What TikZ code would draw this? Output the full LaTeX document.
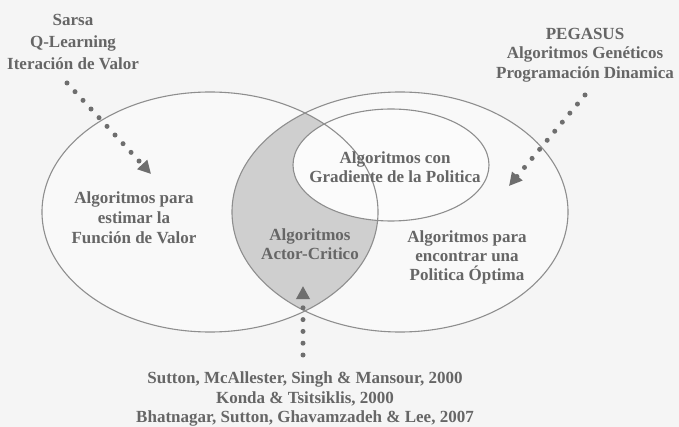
\documentclass[tikz,border=0pt]{standalone}
\usepackage{fontspec}
\setmainfont{Liberation Serif}
\usetikzlibrary{arrows.meta}
\definecolor{bgpaper}{HTML}{F5F5F5}
\definecolor{ringline}{HTML}{8E8E8E}
\definecolor{lensfill}{HTML}{CFCFCF}
\definecolor{labelgray}{HTML}{666666}
\definecolor{pointergray}{HTML}{6E6E6E}
\tikzset{
  ring/.style={draw=ringline, line width=1.1pt},
  lbl/.style={text=labelgray, font=\fontsize{17}{20}\selectfont\bfseries,
              align=center, inner sep=0pt},
  pointer/.style={draw=pointergray, line width=5pt, line cap=round,
                  dash pattern=on 0pt off 11.8pt,
                  -{Triangle[length=13pt,width=13pt,fill=pointergray]}}
}
\begin{document}
\begin{tikzpicture}[x=1pt,y=-1pt]
  % paper
  \fill[bgpaper] (0,0) rectangle (679,427);
  \useasboundingbox (0,0) rectangle (679,427);

  % the two main sets
  \fill[white!45!bgpaper] (210,212) ellipse [x radius=168, y radius=120];
  \fill[white!45!bgpaper] (400,212) ellipse [x radius=168, y radius=120];
  % shaded intersection (actor-critic)
  \begin{scope}
    \clip (210,212) ellipse [x radius=168, y radius=120];
    \fill[lensfill] (400,212) ellipse [x radius=168, y radius=120];
  \end{scope}
  % policy-gradient subset
  \fill[white!60!bgpaper] (391,165) ellipse [x radius=98, y radius=56];

  \draw[ring] (210,212) ellipse [x radius=168, y radius=120];
  \draw[ring] (400,212) ellipse [x radius=168, y radius=120];
  \draw[ring] (391,165) ellipse [x radius=98, y radius=56];

  % labels
  \node[lbl, font=\fontsize{17}{22}\selectfont\bfseries] (vfex) at (73,42)
    {Sarsa\\Q-Learning\\Iteración de Valor};
  \node[lbl, font=\fontsize{17}{19.5}\selectfont\bfseries] (psex) at (585,55)
    {PEGASUS\\Algoritmos Genéticos\\Programación Dinamica};
  \node[lbl] (vf) at (134,218) {Algoritmos para\\estimar la\\Función de Valor};
  \node[lbl, font=\fontsize{17}{18.5}\selectfont\bfseries] (pg) at (395,167)
    {Algoritmos con\\Gradiente de la Politica};
  \node[lbl, font=\fontsize{17}{19}\selectfont\bfseries] (ac) at (310,244)
    {Algoritmos\\Actor-Critico};
  \node[lbl, font=\fontsize{17}{19}\selectfont\bfseries] (ps) at (467,257)
    {Algoritmos para\\encontrar una\\Politica Óptima};
  \node[lbl, font=\fontsize{17}{19.5}\selectfont\bfseries] (acex) at (305,399)
    {Sutton, McAllester, Singh \& Mansour, 2000\\Konda \& Tsitsiklis, 2000\\Bhatnagar, Sutton, Ghavamzadeh \& Lee, 2007};

  % pointers from the example lists into the sets
  \coordinate (vfs) at (67,83);
  \coordinate (vft) at (151,174);
  \coordinate (pss) at (585,95);
  \coordinate (pst) at (509,186);
  \coordinate (acs) at (303,355);
  \coordinate (act) at (303,286);
  \draw[pointer] (vfs) -- (vft);
  \draw[pointer] (pss) -- (pst);
  \draw[pointer] (acs) -- (act);
\end{tikzpicture}
\end{document}
